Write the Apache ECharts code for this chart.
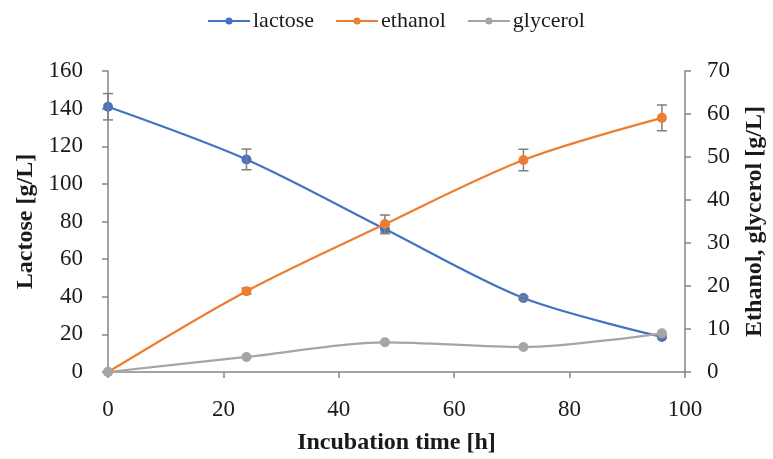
<!DOCTYPE html>
<html>
<head>
<meta charset="utf-8">
<script src="https://cdn.jsdelivr.net/npm/echarts@6/dist/echarts.min.js"></script>
<style>
  html, body { margin: 0; padding: 0; background: #fff; }
  #chart { width: 773px; height: 459px; }
</style>
</head>
<body>
<div id="chart"></div>
<script>
// Sampling times [h]
const times = [0, 24, 48, 72, 96];
// Concentrations [g/L]
const lactose = [141, 113, 76, 39.3, 18.6];
const ethanol = [0, 18.8, 34.4, 49.3, 59.1];
const glycerol = [0, 3.5, 6.9, 5.8, 9.0];
// Standard deviations [g/L]
const lactoseSd = [7, 5.5, 2.5, 1, 0.6];
const ethanolSd = [0, 0.7, 2.1, 2.5, 3];
const glycerolSd = [0, 0, 0, 0, 0];

const leftTicks = [0, 20, 40, 60, 80, 100, 120, 140, 160];
const rightTicks = [0, 10, 20, 30, 40, 50, 60, 70];
const xTicks = [0, 20, 40, 60, 80, 100];

const FONT = '"Liberation Serif", "DejaVu Serif", serif';
const AXIS_GREY = '#868686';
const TEXT = '#1a1a1a';

const pairs = (ys) => times.map((t, i) => [t, ys[i]]);
const bars = (ys, sd) => times.map((t, i) => [t, ys[i] - sd[i], ys[i] + sd[i]]).filter((d, i) => sd[i] > 0);

function errorBars(yAxisIndex, ys, sd) {
  return {
    type: 'custom',
    yAxisIndex: yAxisIndex,
    silent: true,
    z: 3,
    data: bars(ys, sd),
    renderItem: function (params, api) {
      const x = api.value(0);
      const lo = api.coord([x, api.value(1)]);
      const hi = api.coord([x, api.value(2)]);
      const w = 5;
      const style = { stroke: '#7f7f7f', lineWidth: 1.5, fill: null };
      return {
        type: 'group',
        children: [
          { type: 'line', shape: { x1: lo[0], y1: lo[1], x2: hi[0], y2: hi[1] }, style: style },
          { type: 'line', shape: { x1: lo[0] - w, y1: lo[1], x2: lo[0] + w, y2: lo[1] }, style: style },
          { type: 'line', shape: { x1: hi[0] - w, y1: hi[1], x2: hi[0] + w, y2: hi[1] }, style: style }
        ]
      };
    }
  };
}

function lineSeries(name, yAxisIndex, ys, color, z) {
  return {
    name: name,
    type: 'line',
    yAxisIndex: yAxisIndex,
    data: pairs(ys),
    smooth: 0.3,
    symbol: 'circle',
    symbolSize: 10,
    z: z,
    lineStyle: { color: color, width: 2.25 },
    itemStyle: { color: color },
    emphasis: { disabled: true }
  };
}

const chart = echarts.init(document.getElementById('chart'));
chart.setOption({
  animation: false,
  textStyle: { fontFamily: FONT },
  color: ['#4472C4', '#ED7D31', '#A5A5A5'],
  legend: {
    top: 5,
    left: 202,
    itemWidth: 42,
    itemHeight: 9,
    itemGap: 21,
    textStyle: { fontFamily: FONT, fontSize: 22, color: TEXT, padding: [0, 0, 0, -2] },
    data: ['lactose', 'ethanol', 'glycerol']
  },
  grid: { left: 108, right: 88, top: 71, bottom: 87, containLabel: false, outerBoundsMode: 'none' },
  xAxis: {
    type: 'value',
    min: 0,
    max: 100,
    interval: 20,
    name: 'Incubation time [h]',
    nameLocation: 'middle',
    nameGap: 59,
    nameTextStyle: { fontFamily: FONT, fontSize: 24, fontWeight: 'bold', color: TEXT },
    axisLine: { show: true, lineStyle: { color: AXIS_GREY, width: 1.5 } },
    axisTick: { show: true, inside: false, length: 6, lineStyle: { color: AXIS_GREY, width: 1.5 } },
    axisLabel: {
      margin: 26, fontFamily: FONT, fontSize: 23, color: TEXT,
      formatter: (v) => xTicks.includes(v) ? String(v) : ''
    },
    splitLine: { show: false }
  },
  yAxis: [
    {
      type: 'value',
      position: 'left',
      min: 0,
      max: 160,
      interval: 20,
      name: 'Lactose [g/L]',
      nameLocation: 'middle',
      nameRotate: 90,
      nameGap: 68,
      nameTextStyle: { fontFamily: FONT, fontSize: 24, fontWeight: 'bold', color: TEXT },
      axisLine: { show: true, lineStyle: { color: AXIS_GREY, width: 1.5 } },
      axisTick: { show: true, length: 6, lineStyle: { color: AXIS_GREY, width: 1.5 } },
      axisLabel: {
        margin: 25, fontFamily: FONT, fontSize: 23, color: TEXT,
        formatter: (v) => leftTicks.includes(v) ? String(v) : ''
      },
      splitLine: { show: false }
    },
    {
      type: 'value',
      position: 'right',
      min: 0,
      max: 70,
      interval: 10,
      name: 'Ethanol, glycerol [g/L]',
      nameLocation: 'middle',
      nameRotate: 90,
      nameGap: 58,
      nameTextStyle: { fontFamily: FONT, fontSize: 24, fontWeight: 'bold', color: TEXT },
      axisLine: { show: true, lineStyle: { color: AXIS_GREY, width: 1.5 } },
      axisTick: { show: true, length: 6, lineStyle: { color: AXIS_GREY, width: 1.5 } },
      axisLabel: {
        margin: 22, fontFamily: FONT, fontSize: 23, color: TEXT,
        formatter: (v) => rightTicks.includes(v) ? String(v) : ''
      },
      splitLine: { show: false }
    }
  ],
  series: [
    lineSeries('lactose', 0, lactose, '#4472C4', 2),
    errorBars(0, lactose, lactoseSd),
    lineSeries('ethanol', 1, ethanol, '#ED7D31', 4),
    errorBars(1, ethanol, ethanolSd),
    lineSeries('glycerol', 1, glycerol, '#A5A5A5', 6),
    errorBars(1, glycerol, glycerolSd)
  ]
});
</script>
</body>
</html>
